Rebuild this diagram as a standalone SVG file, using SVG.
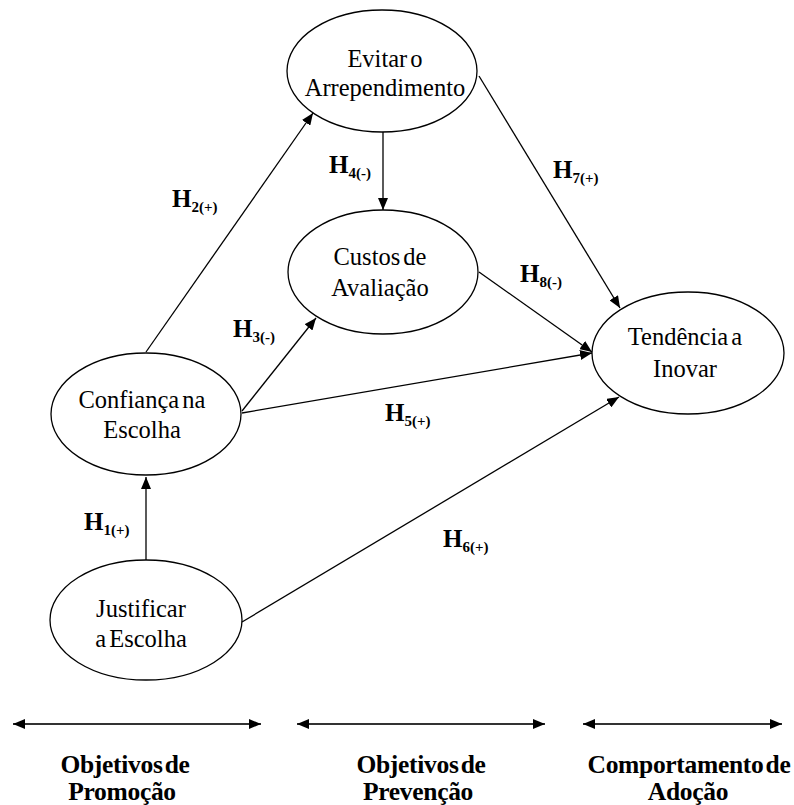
<svg xmlns="http://www.w3.org/2000/svg" width="794" height="805" viewBox="0 0 794 805" font-family="Liberation Serif, Times New Roman, serif">
<defs>
<marker id="ah" markerWidth="12" markerHeight="10" refX="12" refY="5" orient="auto-start-reverse" markerUnits="userSpaceOnUse">
<path d="M0,0 L12,5 L0,10 z" fill="#000"/>
</marker>
<style>
.node ellipse{fill:#fff;stroke:#000;stroke-width:1.3}
.node text{font-size:24.5px;fill:#000;text-anchor:middle;word-spacing:-3px}
.conn line{stroke:#000;stroke-width:1.3;marker-end:url(#ah)}
.lbl{font-weight:bold;fill:#000}
.lbl .h{font-size:25px}
.lbl .s{font-size:15px}
.band line{stroke:#333;stroke-width:2;marker-start:url(#ah);marker-end:url(#ah)}
.band text{font-weight:bold;font-size:25.5px;text-anchor:middle;word-spacing:-4px;letter-spacing:-0.3px}
</style>
</defs>
<rect width="794" height="805" fill="#fff"/>

<g id="connectors" class="conn">
<line x1="146" y1="560" x2="146" y2="477"/>
<line x1="146" y1="352" x2="313" y2="113"/>
<line x1="242" y1="411" x2="316" y2="318"/>
<line x1="242" y1="413" x2="592" y2="353"/>
<line x1="383" y1="132" x2="383" y2="210"/>
<line x1="479" y1="76" x2="620" y2="308"/>
<line x1="479" y1="272" x2="592" y2="352"/>
<line x1="242" y1="622" x2="619" y2="397"/>
</g>

<g id="evitar" class="node">
<ellipse cx="382" cy="71" rx="95" ry="61"/>
<text x="385" y="67">Evitar o</text>
<text x="385" y="96">Arrependimento</text>
</g>
<g id="custos" class="node">
<ellipse cx="383" cy="272" rx="95" ry="62"/>
<text x="380" y="265">Custos de</text>
<text x="380" y="296">Avaliação</text>
</g>
<g id="confianca" class="node">
<ellipse cx="146" cy="414" rx="95" ry="61"/>
<text x="142" y="408">Confiança na</text>
<text x="142" y="438">Escolha</text>
</g>
<g id="justificar" class="node">
<ellipse cx="146" cy="620" rx="96" ry="60"/>
<text x="141" y="617">Justificar</text>
<text x="141" y="647">a Escolha</text>
</g>
<g id="tendencia" class="node">
<ellipse cx="688" cy="353" rx="96" ry="61"/>
<text x="685" y="345">Tendência a</text>
<text x="685" y="377">Inovar</text>
</g>

<g id="labels">
<text class="lbl" x="84" y="530"><tspan class="h">H</tspan><tspan class="s" dy="5">1(+)</tspan></text>
<text class="lbl" x="172" y="207"><tspan class="h">H</tspan><tspan class="s" dy="5">2(+)</tspan></text>
<text class="lbl" x="233" y="337"><tspan class="h">H</tspan><tspan class="s" dy="5">3(-)</tspan></text>
<text class="lbl" x="329" y="173"><tspan class="h">H</tspan><tspan class="s" dy="5">4(-)</tspan></text>
<text class="lbl" x="385" y="421"><tspan class="h">H</tspan><tspan class="s" dy="5">5(+)</tspan></text>
<text class="lbl" x="443" y="547"><tspan class="h">H</tspan><tspan class="s" dy="5">6(+)</tspan></text>
<text class="lbl" x="553" y="178"><tspan class="h">H</tspan><tspan class="s" dy="5">7(+)</tspan></text>
<text class="lbl" x="520" y="282"><tspan class="h">H</tspan><tspan class="s" dy="5">8(-)</tspan></text>
</g>

<g id="bands" class="band">
<line x1="13" y1="724" x2="261" y2="724"/>
<line x1="297" y1="724" x2="545" y2="724"/>
<line x1="583" y1="724" x2="782" y2="724"/>
<text x="125" y="773">Objetivos de</text>
<text x="122" y="800">Promoção</text>
<text x="421" y="773">Objetivos de</text>
<text x="418" y="800">Prevenção</text>
<text x="689" y="773">Comportamento de</text>
<text x="688" y="800">Adoção</text>
</g>
</svg>
